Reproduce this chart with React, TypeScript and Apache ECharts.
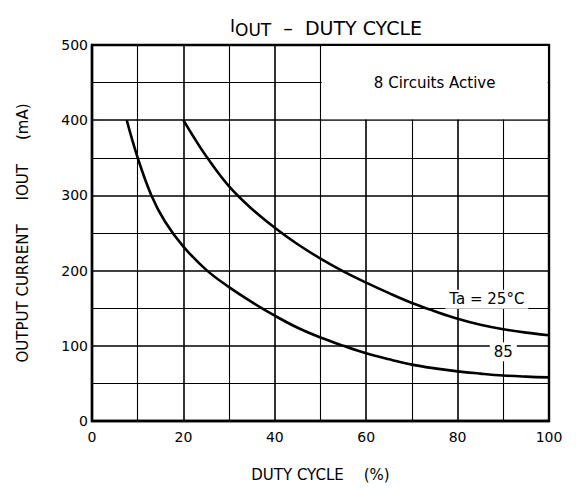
import React, { useEffect, useRef } from "react";
import * as echarts from "echarts";

const duty25 = [20, 22, 25, 30, 35, 40, 45, 50, 55, 60, 65, 70, 75, 80, 85, 90, 95, 100];
const iout25 = [400, 380, 352, 312, 282, 257, 235, 216, 199, 184, 170, 157, 146, 136, 128, 122, 117.5, 114];

const duty85 = [7.6, 10, 13, 16, 20, 25, 30, 35, 40, 45, 50, 55, 60, 65, 70, 75, 80, 85, 90, 95, 100];
const iout85 = [400, 350, 300, 265, 232, 201, 178, 158, 140, 124, 111, 100, 90, 82, 75, 70, 66, 63, 60.5, 59, 58];

const curveLabels = ["Ta = 25°C", "85"];
const labelX = [86.4, 90];
const labelY = [162, 92];

const noteText = "8 Circuits Active";
const noteBox = [50, 400, 100, 500];

const FONT = "DejaVu Sans";

export default function App() {
  const ref = useRef<HTMLDivElement>(null);
  useEffect(() => {
    if (!ref.current) return;
    const chart = echarts.init(ref.current, undefined, { renderer: "svg" });
    const zip = (xs: number[], ys: number[]) => xs.map((x, i) => [x, ys[i]]);
    chart.setOption({
      animation: false,
      backgroundColor: "#fff",
      title: {
        text: "{i|I}{sub|OUT}  –  DUTY CYCLE",
        left: 321,
        textAlign: "center",
        top: 12,
        textStyle: {
          fontFamily: FONT,
          fontSize: 19,
          fontWeight: "normal",
          color: "#000",
          rich: {
            i: { fontFamily: FONT, fontSize: 17, color: "#000", padding: [0, 0, 5, 0] },
            sub: { fontFamily: FONT, fontSize: 17, color: "#000", padding: [4, 0, 0, 0] },
          },
        },
      },
      grid: {
        left: 92,
        right: 27,
        top: 45,
        bottom: 68,
        show: true,
        borderColor: "#000",
        borderWidth: 2.4,
      },
      xAxis: {
        type: "value",
        min: 0,
        max: 100,
        interval: 20,
        name: "DUTY CYCLE{sp|}(%)",
        nameLocation: "middle",
        nameGap: 46,
        nameTextStyle: {
          fontFamily: FONT,
          fontSize: 15,
          color: "#000",
          rich: { sp: { width: 20 } },
        },
        axisLine: { show: true, lineStyle: { color: "#000", width: 2.4 } },
        axisTick: { show: false },
        axisLabel: { fontFamily: FONT, fontSize: 14, color: "#000", margin: 9 },
        splitLine: { show: true, lineStyle: { color: "#000", width: 1.6 } },
        minorTick: { show: false, splitNumber: 2 },
        minorSplitLine: { show: true, lineStyle: { color: "#000", width: 1.1 } },
      },
      yAxis: {
        type: "value",
        min: 0,
        max: 500,
        interval: 100,
        name: "OUTPUT CURRENT{sp|}IOUT{sp|}(mA)",
        nameLocation: "middle",
        nameGap: 62,
        nameTextStyle: {
          fontFamily: FONT,
          fontSize: 15,
          color: "#000",
          rich: { sp: { width: 24 } },
        },
        axisLine: { show: true, lineStyle: { color: "#000", width: 2.4 } },
        axisTick: { show: false },
        axisLabel: { fontFamily: FONT, fontSize: 14, color: "#000", margin: 4 },
        splitLine: { show: true, lineStyle: { color: "#000", width: 1.6 } },
        minorTick: { show: false, splitNumber: 2 },
        minorSplitLine: { show: true, lineStyle: { color: "#000", width: 1.1 } },
      },
      series: [
        {
          type: "line",
          data: zip(duty25, iout25),
          smooth: 0.4,
          symbol: "none",
          lineStyle: { color: "#000", width: 2.6 },
          z: 3,
          markArea: {
            silent: true,
            itemStyle: { color: "#fff", opacity: 1 },
            label: {
              show: true,
              position: "inside",
              formatter: noteText,
              fontFamily: FONT,
              fontSize: 15,
              color: "#000",
            },
            data: [
              [
                { xAxis: noteBox[0] + 0.25, yAxis: noteBox[1] + 1.2 },
                { xAxis: noteBox[2] - 0.3, yAxis: noteBox[3] - 1.4 },
              ],
            ],
          },
        },
        {
          type: "line",
          data: zip(duty85, iout85),
          smooth: 0.4,
          symbol: "none",
          lineStyle: { color: "#000", width: 2.6 },
          z: 3,
        },
        {
          type: "scatter",
          data: labelX.map((x, i) => [x, labelY[i], curveLabels[i]]),
          symbolSize: 1,
          itemStyle: { color: "rgba(0,0,0,0)" },
          z: 4,
          label: {
            show: true,
            position: "inside",
            formatter: (p: any) => p.value[2],
            fontFamily: FONT,
            fontSize: 15,
            color: "#000",
            opacity: 1,
            backgroundColor: "#fff",
            padding: [2, 4],
          },
        },
      ],
    });
    return () => chart.dispose();
  }, []);
  return (
    <div
      ref={ref}
      style={{ position: "fixed", left: 0, top: 0, width: 576, height: 489, background: "#fff" }}
    />
  );
}
